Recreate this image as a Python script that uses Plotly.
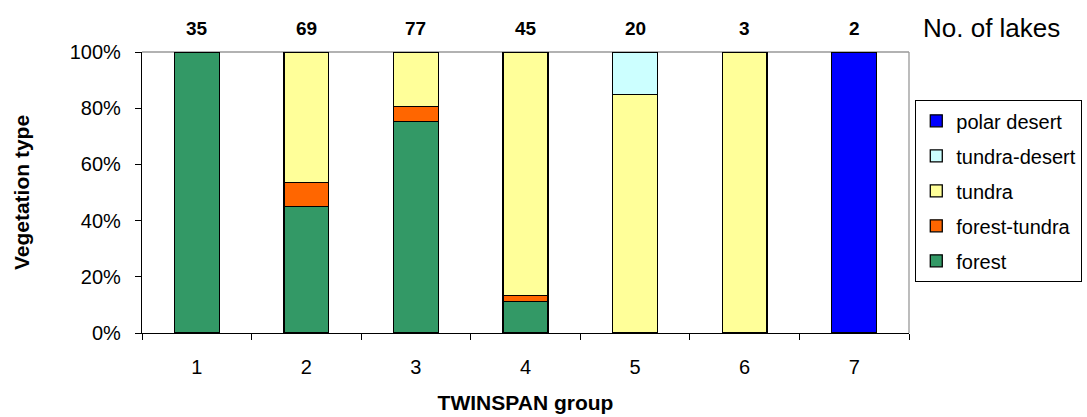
import plotly.graph_objects as go

# TWINSPAN groups and number of lakes in each
groups = ["1", "2", "3", "4", "5", "6", "7"]
n_lakes = [35, 69, 77, 45, 20, 3, 2]

# Share of lakes (%) per vegetation type within each group
forest = [100.0, 44.9, 75.3, 11.1, 0.0, 0.0, 0.0]
forest_tundra = [0.0, 8.7, 5.2, 2.2, 0.0, 0.0, 0.0]
tundra = [0.0, 46.4, 19.5, 86.7, 85.0, 100.0, 0.0]
tundra_desert = [0.0, 0.0, 0.0, 0.0, 15.0, 0.0, 0.0]
polar_desert = [0.0, 0.0, 0.0, 0.0, 0.0, 0.0, 100.0]

series = [
    ("forest", forest, "#339966"),
    ("forest-tundra", forest_tundra, "#FF6600"),
    ("tundra", tundra, "#FFFF99"),
    ("tundra-desert", tundra_desert, "#CCFFFF"),
    ("polar desert", polar_desert, "#0000FF"),
]

FONT = "Liberation Sans, Arial, sans-serif"

fig = go.Figure()
for rank, (name, vals, color) in enumerate(series):
    fig.add_trace(go.Bar(
        x=groups, y=vals, name=name, legendgroup=name,
        legendrank=100 - rank,
        marker=dict(color=color, line=dict(color="black", width=1.3)),
        hoverinfo="name+y",
    ))

# Lake counts above each bar (category index positions)
for i, n in enumerate(n_lakes):
    fig.add_annotation(x=i, y=1.085, xref="x", yref="paper", yanchor="middle",
                       text=f"<b>{n}</b>", showarrow=False,
                       font=dict(size=19, color="black", family=FONT))
fig.add_annotation(x=1.016, y=1.085, xref="paper", yref="paper", yanchor="middle",
                   text="No. of lakes", xanchor="left", showarrow=False,
                   font=dict(size=26, color="black", family=FONT))

# Grey plot-area border on top and right
fig.add_shape(type="line", xref="paper", yref="paper", x0=0, x1=1, y0=1, y1=1,
              line=dict(color="#999999", width=1.3), layer="below")
fig.add_shape(type="line", xref="paper", yref="paper", x0=1, x1=1, y0=0, y1=1,
              line=dict(color="#999999", width=1.3), layer="below")

fig.update_layout(
    barmode="stack",
    bargap=0.59,
    width=1087, height=417,
    margin=dict(l=142, r=178, t=52, b=84, autoexpand=False),
    paper_bgcolor="white", plot_bgcolor="white",
    font=dict(family=FONT, size=20, color="black"),
    legend=dict(
        x=1.0078, y=0.829, xanchor="left", yanchor="top",
        traceorder="grouped", tracegroupgap=6,
        bordercolor="black", borderwidth=1.3, bgcolor="white",
        font=dict(size=20, family=FONT), itemwidth=30,
    ),
    xaxis=dict(
        title=dict(text="<b>TWINSPAN group</b>", font=dict(size=21), standoff=18),
        type="category", tickson="boundaries", ticks="outside", ticklen=6,
        range=[-0.5, 6.5], ticklabelstandoff=16,
        tickcolor="black", showline=True, linecolor="black", linewidth=1.3,
        showgrid=False, tickfont=dict(size=20),
    ),
    yaxis=dict(
        title=dict(text="<b>Vegetation type</b>", font=dict(size=21), standoff=34),
        range=[0, 100], dtick=20, ticksuffix="%", ticks="outside", ticklen=6,
        ticklabelstandoff=10,
        tickcolor="black", showline=True, linecolor="black", linewidth=1.3,
        showgrid=False, zeroline=False, tickfont=dict(size=20),
    ),
)

fig.write_html("out.html")
